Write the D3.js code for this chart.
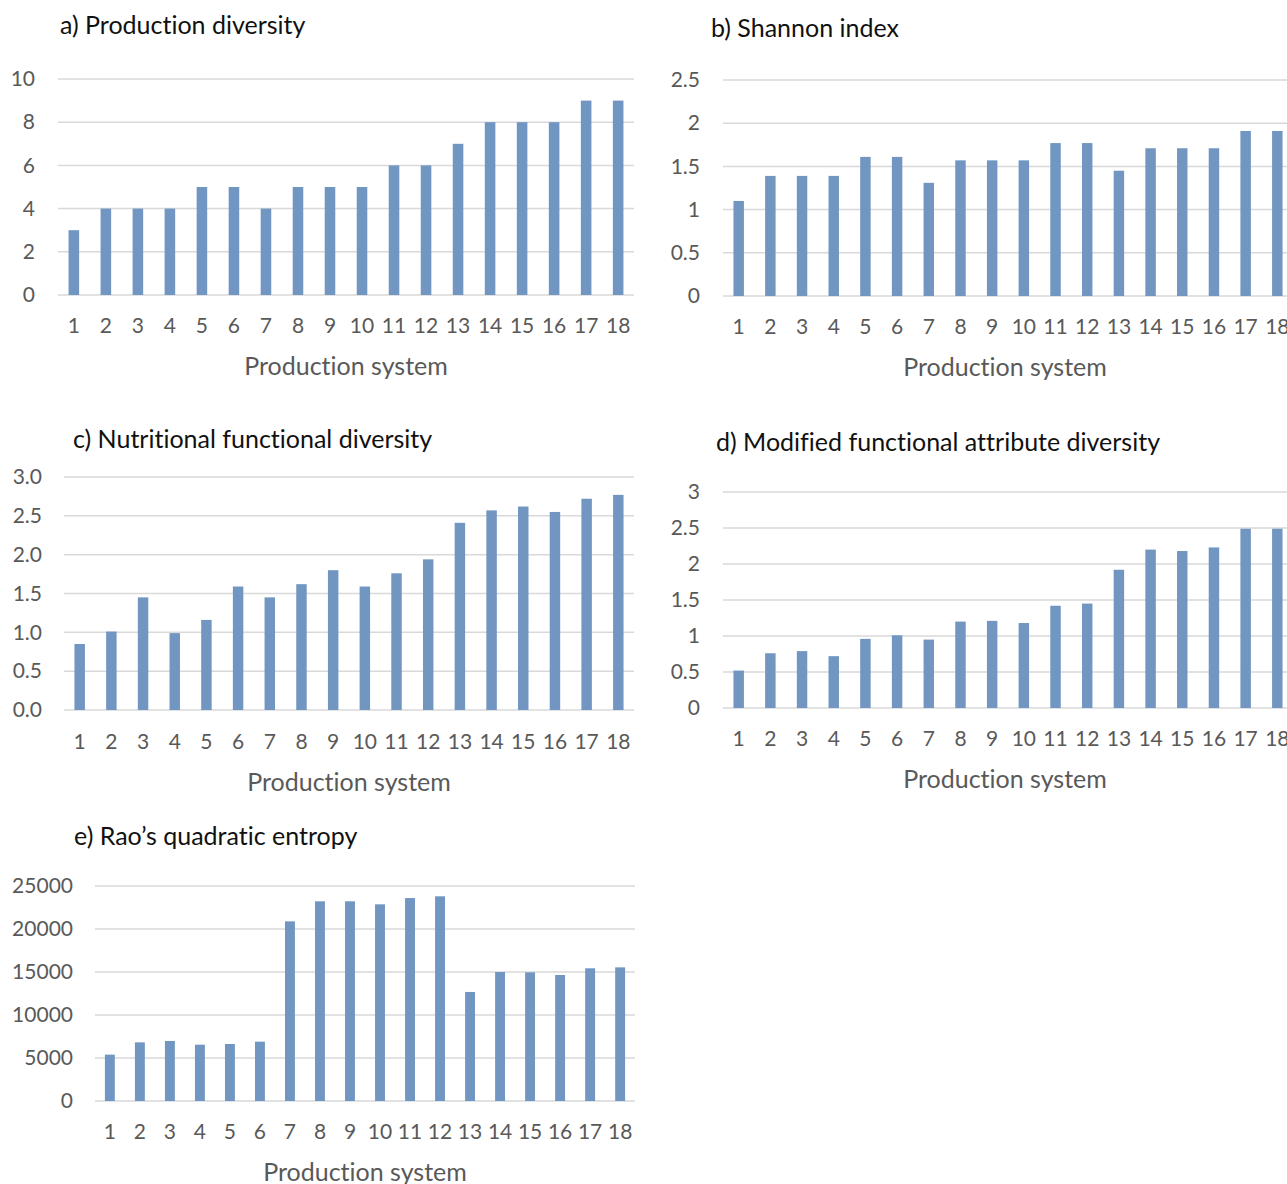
<!DOCTYPE html>
<html>
<head>
<meta charset="utf-8">
<script src="https://cdn.jsdelivr.net/npm/d3@7"></script>
<style>
  body { margin: 0; background: #fff; }
  svg { font-family: Lato, "Open Sans", sans-serif; font-variant-ligatures: none; font-feature-settings: "liga" 0; }
</style>
</head>
<body>
<svg id="chart" width="1287" height="1184"></svg>
<script>
// production systems 1..18
var systems = d3.range(1, 19);

// values
var prodDiversity = [3, 4, 4, 4, 5, 5, 4, 5, 5, 5, 6, 6, 7, 8, 8, 8, 9, 9];
var shannon = [1.10, 1.39, 1.39, 1.39, 1.61, 1.61, 1.31, 1.57, 1.57, 1.57, 1.77, 1.77, 1.45, 1.71, 1.71, 1.71, 1.91, 1.91];
var nutritionalFD = [0.85, 1.01, 1.45, 0.99, 1.16, 1.59, 1.45, 1.62, 1.80, 1.59, 1.76, 1.94, 2.41, 2.57, 2.62, 2.55, 2.72, 2.77];
var modifiedFAD = [0.52, 0.76, 0.79, 0.72, 0.96, 1.01, 0.95, 1.20, 1.21, 1.18, 1.42, 1.45, 1.92, 2.20, 2.18, 2.23, 2.49, 2.49];
var raoQ = [5390, 6820, 6980, 6550, 6630, 6900, 20890, 23220, 23220, 22870, 23600, 23800, 12680, 15000, 14960, 14650, 15430, 15540];

// y tick values per panel
var ticksA = [0, 2, 4, 6, 8, 10];
var ticksB = [0, 0.5, 1, 1.5, 2, 2.5];
var ticksC = [0, 0.5, 1, 1.5, 2, 2.5, 3];
var ticksD = [0, 0.5, 1, 1.5, 2, 2.5, 3];
var ticksE = [0, 5000, 10000, 15000, 20000, 25000];

var barColor = "#7096c1",
    gridColor = "#d9d9d9",
    tickColor = "#595959";

var svg = d3.select("#chart");

function drawPanel(p) {
  var x = d3.scaleBand()
    .domain(systems)
    .range([p.left, p.right])
    .paddingInner(0.67)
    .paddingOuter(0.33);

  var y = d3.scaleLinear()
    .domain([0, d3.max(p.ticks)])
    .range([p.bottom, p.top]);

  var g = svg.append("g");

  // title
  g.append("text")
    .attr("x", p.titleX)
    .attr("y", p.titleY)
    .attr("font-size", 25)
    .attr("fill", "#111")
    .text(p.title);

  // gridlines
  g.selectAll("line.grid")
    .data(p.ticks)
    .enter().append("line")
    .attr("class", "grid")
    .attr("x1", p.left)
    .attr("x2", p.right)
    .attr("y1", function(d) { return y(d); })
    .attr("y2", function(d) { return y(d); })
    .attr("stroke", gridColor)
    .attr("stroke-width", 1.5);

  // y axis labels
  var yAxis = d3.axisLeft(y)
    .tickValues(p.ticks)
    .tickFormat(p.fmt)
    .tickSize(0)
    .tickPadding(p.left - p.labelRight);
  g.append("g")
    .attr("transform", "translate(" + p.left + ",0)")
    .call(yAxis)
    .call(function(a) { a.select(".domain").remove(); })
    .selectAll("text")
    .attr("font-size", 21)
    .attr("font-family", "Lato, sans-serif")
    .attr("fill", tickColor);

  // bars
  g.selectAll("rect")
    .data(p.values)
    .enter().append("rect")
    .attr("x", function(d, i) { return x(systems[i]); })
    .attr("width", x.bandwidth())
    .attr("y", function(d) { return y(d); })
    .attr("height", function(d) { return y(0) - y(d); })
    .attr("fill", barColor);

  // x axis labels
  var xAxis = d3.axisBottom(x).tickSize(0).tickPadding(p.xLabelGap);
  g.append("g")
    .attr("transform", "translate(0," + p.bottom + ")")
    .call(xAxis)
    .call(function(a) { a.select(".domain").remove(); })
    .selectAll("text")
    .attr("font-size", 21)
    .attr("font-family", "Lato, sans-serif")
    .attr("fill", tickColor);

  // x axis title
  g.append("text")
    .attr("x", (p.left + Math.min(p.right, 1287)) / 2 + p.xTitleShift)
    .attr("y", p.bottom + p.xTitleGap)
    .attr("text-anchor", "middle")
    .attr("font-size", 25)
    .attr("fill", tickColor)
    .text("Production system");
}

drawPanel({
  title: "a) Production diversity", titleX: 60, titleY: 34,
  values: prodDiversity, ticks: ticksA, fmt: d3.format("d"),
  left: 58, right: 634, top: 79, bottom: 295, labelRight: 35,
  xLabelGap: 23, xTitleGap: 80, xTitleShift: 0
});

drawPanel({
  title: "b) Shannon index", titleX: 711, titleY: 37,
  values: shannon, ticks: ticksB, fmt: function(d) { return String(d); },
  left: 723, right: 1293, top: 80, bottom: 296, labelRight: 700,
  xLabelGap: 23, xTitleGap: 80, xTitleShift: 0
});

drawPanel({
  title: "c) Nutritional functional diversity", titleX: 73, titleY: 448,
  values: nutritionalFD, ticks: ticksC, fmt: d3.format(".1f"),
  left: 64, right: 634, top: 477, bottom: 710, labelRight: 42,
  xLabelGap: 24, xTitleGap: 81, xTitleShift: 0
});

drawPanel({
  title: "d) Modified functional attribute diversity", titleX: 716, titleY: 451,
  values: modifiedFAD, ticks: ticksD, fmt: function(d) { return String(d); },
  left: 723, right: 1293, top: 492, bottom: 708, labelRight: 700,
  xLabelGap: 23, xTitleGap: 80, xTitleShift: 0
});

drawPanel({
  title: "e) Rao\u2019s quadratic entropy", titleX: 74, titleY: 845,
  values: raoQ, ticks: ticksE, fmt: d3.format("d"),
  left: 95, right: 635, top: 886, bottom: 1101, labelRight: 73,
  xLabelGap: 23, xTitleGap: 80, xTitleShift: 0
});
</script>
</body>
</html>
